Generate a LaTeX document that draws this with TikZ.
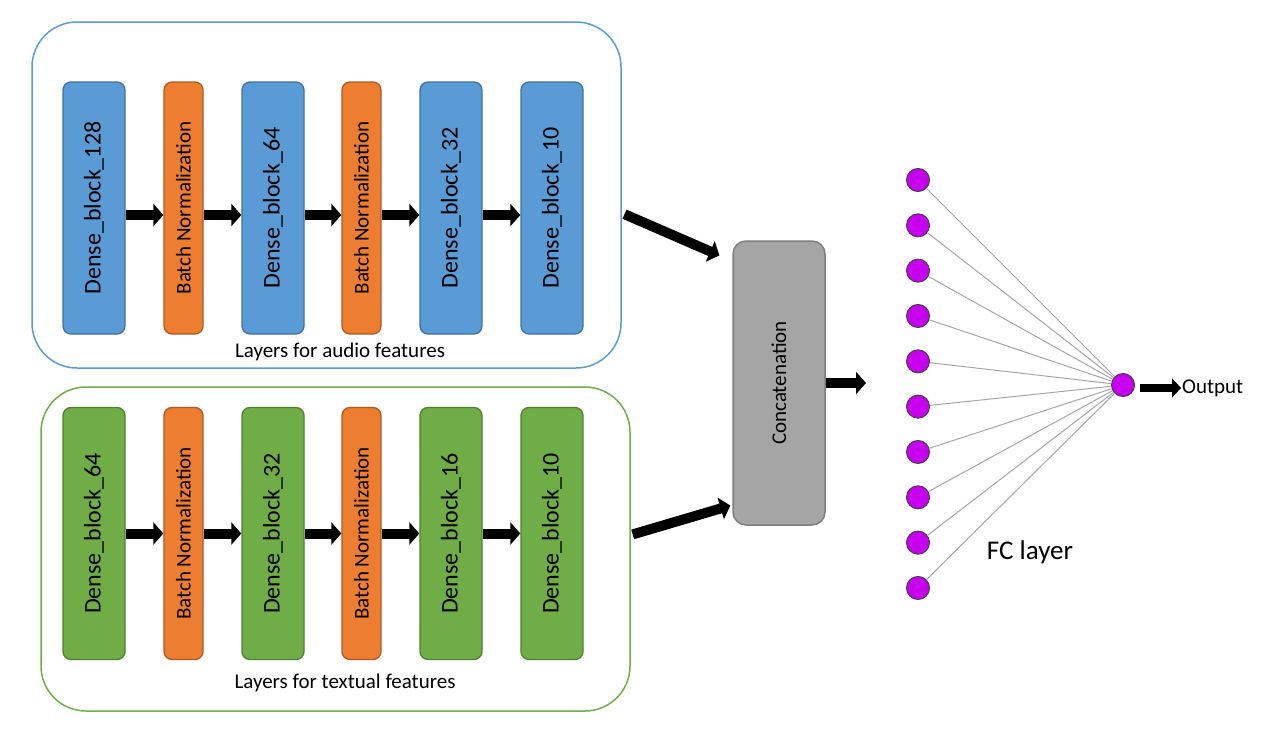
\documentclass[tikz,border=0pt]{standalone}
\usepackage{fontspec}
\usepackage{graphicx}
\setmainfont{Carlito}
\usetikzlibrary{arrows.meta}
\definecolor{blueF}{HTML}{5B9BD5}
\definecolor{blueS}{HTML}{41719C}
\definecolor{orangeF}{HTML}{ED7D31}
\definecolor{orangeS}{HTML}{AE5A21}
\definecolor{greenF}{HTML}{70AD47}
\definecolor{greenS}{HTML}{507E32}
\definecolor{grayF}{HTML}{A5A5A5}
\definecolor{grayS}{HTML}{7F7F7F}
\definecolor{purpF}{RGB}{200,0,240}
\definecolor{linkC}{HTML}{A6A6A6}
\begin{document}
\begin{tikzpicture}[x=1pt,y=-1pt,
  blk/.style={rounded corners=8pt, minimum height=252pt, line width=1.3pt, inner sep=0pt},
  dblue/.style={blk, draw=blueS, fill=blueF, minimum width=62pt, font=\fontsize{24}{24}\selectfont},
  dgreen/.style={blk, draw=greenS, fill=greenF, minimum width=62pt, font=\fontsize{24}{24}\selectfont},
  bnorm/.style={blk, draw=orangeS, fill=orangeF, minimum width=39pt, font=\fontsize{21}{21}\selectfont},
  outerbox/.style={rounded corners=45pt, line width=1.5pt, inner sep=0pt},
  lbl/.style={font=\fontsize{21}{21}\selectfont, inner sep=1pt},
  bigarrow/.style={line width=10pt, -{Triangle[length=10pt,width=22pt]}},
  smallarrow/.style={line width=8pt, -{Triangle[length=9pt,width=19pt]}},
  neuron/.style={circle, draw=black!75, fill=purpF, line width=1pt, minimum size=23pt, inner sep=0pt},
  link/.style={draw=linkC, line width=1pt}
]
\useasboundingbox (0,0) rectangle (1280,755);
\fill[white] (0,0) rectangle (1280,755);

% outer boxes
\node[outerbox, draw=blueF, minimum width=589pt, minimum height=346pt] (audio) at (326.5,195) {};
\node[outerbox, draw=greenF, minimum width=589pt, minimum height=324pt] (textual) at (335.5,549) {};
\node[lbl] (audiolbl) at (340,352) {Layers for audio features};
\node[lbl] (textlbl) at (345,683) {Layers for textual features};

% audio blocks
\node[dblue] (a1) at (94,208) {\rotatebox{90}{Dense\_block\_128}};
\node[bnorm] (a2) at (183.5,208) {\rotatebox{90}{Batch Normalization}};
\node[dblue] (a3) at (273,208) {\rotatebox{90}{Dense\_block\_64}};
\node[bnorm] (a4) at (361.5,208) {\rotatebox{90}{Batch Normalization}};
\node[dblue] (a5) at (451,208) {\rotatebox{90}{Dense\_block\_32}};
\node[dblue] (a6) at (552,208) {\rotatebox{90}{Dense\_block\_10}};

% textual blocks
\node[dgreen] (b1) at (94,533.5) {\rotatebox{90}{Dense\_block\_64}};
\node[bnorm] (b2) at (183.5,533.5) {\rotatebox{90}{Batch Normalization}};
\node[dgreen] (b3) at (273,533.5) {\rotatebox{90}{Dense\_block\_32}};
\node[bnorm] (b4) at (361.5,533.5) {\rotatebox{90}{Batch Normalization}};
\node[dgreen] (b5) at (451,533.5) {\rotatebox{90}{Dense\_block\_16}};
\node[dgreen] (b6) at (552,533.5) {\rotatebox{90}{Dense\_block\_10}};

% chain arrows
\foreach \p/\q in {a1/a2,a2/a3,a3/a4,a4/a5,a5/a6}
  \draw[bigarrow] ([yshift=-7pt]\p.east) -- ([yshift=-7pt]\q.west);
\foreach \p/\q in {b1/b2,b2/b3,b3/b4,b4/b5,b5/b6}
  \draw[bigarrow] (\p.east) -- (\q.west);

% concatenation
\node[draw=grayS, fill=grayF, line width=1.5pt, rounded corners=13pt, minimum width=92pt, minimum height=284pt, inner sep=0pt, font=\fontsize{21}{21}\selectfont] (concat) at (779,383) {\rotatebox{90}{Concatenation}};

\draw[bigarrow, shorten <=3pt, shorten >=14pt] ([yshift=-18pt]audio.east) -- ([yshift=122pt]concat.west);
\draw[bigarrow, shorten <=2pt, shorten >=2pt] ([yshift=14pt]textual.east) -- ([yshift=-122pt]concat.west);

\coordinate (cout) at (866,383);
\draw[bigarrow] (concat.east) -- (cout);

% FC layer
\foreach \i in {1,...,10}
  \node[neuron] (n\i) at (918,{180+45.33*(\i-1)}) {};
\node[neuron] (o) at (1123,385) {};
\foreach \i in {1,...,10}
  \draw[link] (n\i) -- (o);

\node[lbl, anchor=west] (outtxt) at (1181,388) {Output};
\draw[smallarrow, shorten <=5pt] ([yshift=-3pt]o.east) -- (outtxt.west);

\node[font=\fontsize{27}{27}\selectfont] (fclbl) at (1030,552) {FC layer};
\end{tikzpicture}
\end{document}
